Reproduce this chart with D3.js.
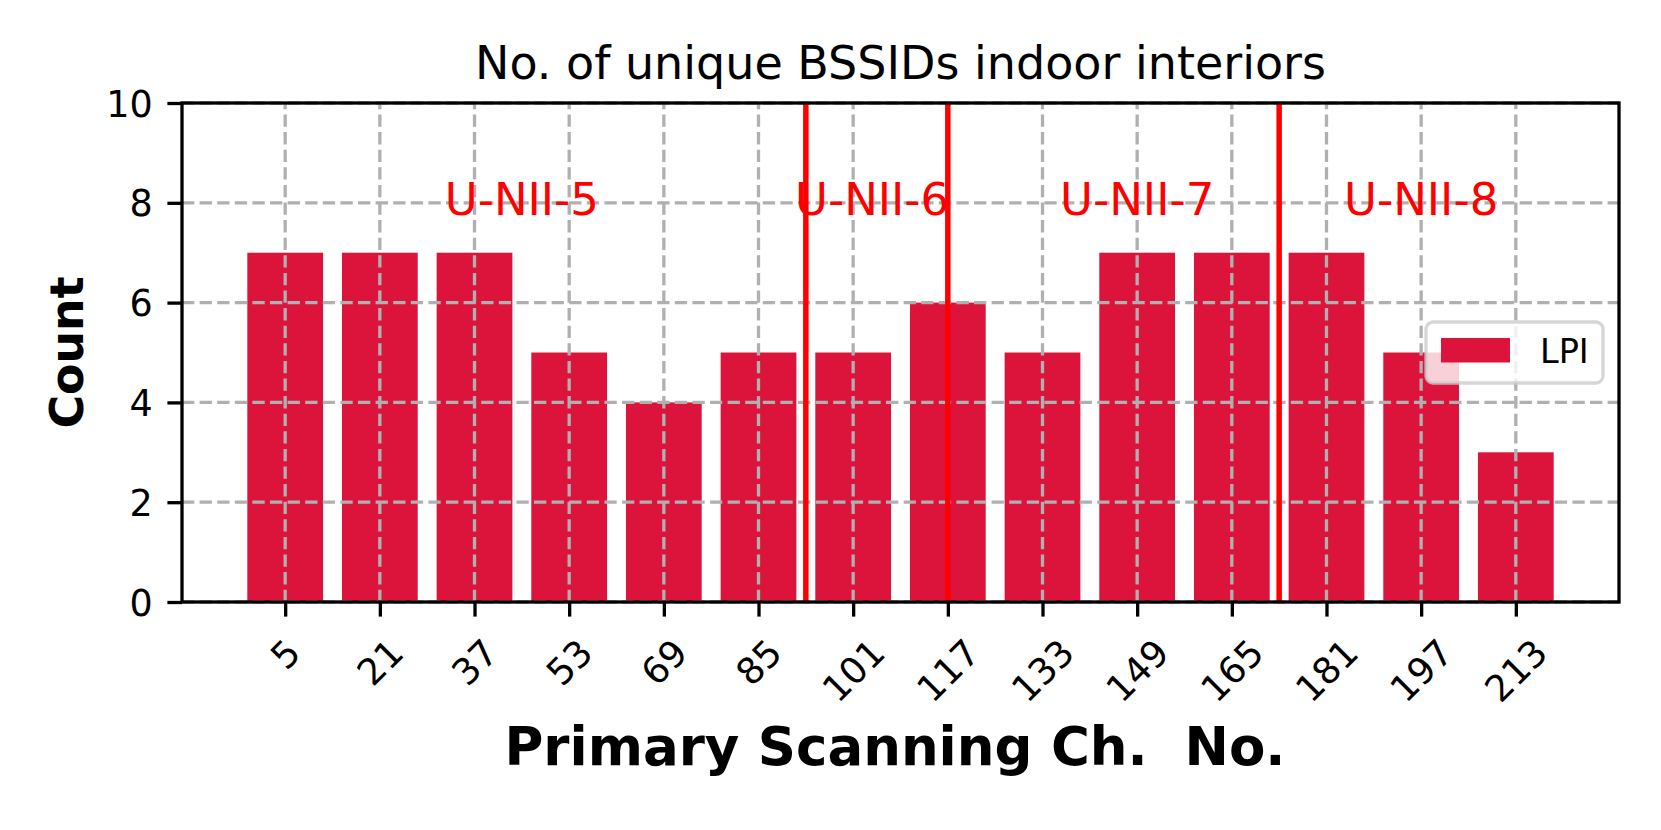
<!DOCTYPE html>
<html>
<head>
<meta charset="utf-8">
<script src="https://cdn.jsdelivr.net/npm/d3@7"></script>
<style>
  html, body { margin: 0; padding: 0; background: #fff; }
  svg { display: block; font-family: "DejaVu Sans", sans-serif; }
</style>
</head>
<body>
<svg id="chart" width="1661" height="830"></svg>
<script>
// ---- data ----
const channels = [5, 21, 37, 53, 69, 85, 101, 117, 133, 149, 165, 181, 197, 213];
const counts   = [7, 7, 7, 5, 4, 5, 5, 6, 5, 7, 7, 7, 5, 3];
const yTicks = [0, 2, 4, 6, 8, 10];
const bandLines = [5.5, 7, 10.5];              // category-index positions of band boundaries
const bandLabels = ["U-NII-5", "U-NII-6", "U-NII-7", "U-NII-8"];
const bandLabelX = [2.5, 6.2, 9.0, 12.0];      // category-index positions of band labels
const bandLabelY = 7.76;
const seriesName = "LPI";
const titleText = "No. of unique BSSIDs indoor interiors";
const xLabelText = "Primary Scanning Ch.  No.";
const yLabelText = "Count";

// ---- layout ----
const L = 182, R = 1619, T = 103, B = 602;
const barColor = "#DC143C";
const tickFont = 36.5;
const svg = d3.select("#chart");

const n = channels.length;
const barW = 0.8;
const lo = -barW / 2, hi = (n - 1) + barW / 2;
const pad = (hi - lo) * 0.05;
const x = d3.scaleLinear().domain([lo - pad, hi + pad]).range([L, R]);
const y = d3.scaleLinear().domain([0, 10]).range([B, T]);

// bars
svg.append("g").selectAll("rect").data(counts).join("rect")
  .attr("x", (d, i) => x(i - barW / 2))
  .attr("width", (d, i) => x(i + barW / 2) - x(i - barW / 2))
  .attr("y", d => y(d))
  .attr("height", d => y(0) - y(d))
  .attr("fill", barColor);

// grid (above bars, like matplotlib default)
const grid = svg.append("g").attr("stroke", "#b0b0b0").attr("stroke-width", 3.3)
  .attr("stroke-dasharray", "12.3,5.3").attr("fill", "none");
grid.selectAll("line.gx").data(channels.map((c, i) => i)).join("line").attr("class", "gx")
  .attr("x1", d => x(d)).attr("x2", d => x(d)).attr("y1", B).attr("y2", T);
grid.selectAll("line.gy").data(yTicks).join("line").attr("class", "gy")
  .attr("x1", L).attr("x2", R).attr("y1", d => y(d)).attr("y2", d => y(d));

// band boundary lines
svg.append("g").selectAll("line").data(bandLines).join("line")
  .attr("x1", d => x(d)).attr("x2", d => x(d)).attr("y1", B).attr("y2", T)
  .attr("stroke", "#ff0000").attr("stroke-width", 5.5);

// band labels
svg.append("g").selectAll("text").data(bandLabels).join("text")
  .attr("x", (d, i) => x(bandLabelX[i])).attr("y", y(bandLabelY))
  .attr("text-anchor", "middle").attr("fill", "#ff0000")
  .style("font-size", "45px").text(d => d);

// axes
const tickLen = 14.6, tickPad = 14.6;
const xAxis = d3.axisBottom(x).tickValues(channels.map((c, i) => i))
  .tickFormat(i => channels[i]).tickSize(tickLen).tickPadding(tickPad);
const gx = svg.append("g").attr("transform", `translate(0,${B})`).call(xAxis);
const yAxis = d3.axisLeft(y).tickValues(yTicks).tickSize(tickLen).tickPadding(tickPad);
const gy = svg.append("g").attr("transform", `translate(${L},0)`).call(yAxis);

[gx, gy].forEach(g => {
  g.select(".domain").remove();
  g.selectAll(".tick line").attr("stroke", "#000").attr("stroke-width", 3.3);
  g.selectAll(".tick text").attr("fill", "#000").style("font-size", tickFont + "px")
    .style("font-family", "DejaVu Sans");
});
gy.selectAll(".tick text").attr("dy", "0.36em");

// rotate x tick labels 45deg, centered under tick, bbox top at tick end + pad
const y0 = B + tickLen + tickPad;
gx.selectAll(".tick text").each(function () {
  const t = d3.select(this);
  const w = this.getComputedTextLength();
  const h = tickFont * 1.16;
  const cy = (w + h) / (2 * Math.SQRT2);
  t.attr("y", null).attr("dy", null)
    .attr("text-anchor", "middle").attr("dominant-baseline", "central")
    .attr("transform", `translate(0,${y0 - B + cy}) rotate(-45)`);
});

// spines
svg.append("rect").attr("x", L).attr("y", T).attr("width", R - L).attr("height", B - T)
  .attr("fill", "none").attr("stroke", "#000").attr("stroke-width", 3.3);

// title & labels
svg.append("text").attr("x", (L + R) / 2).attr("y", 79).attr("text-anchor", "middle")
  .style("font-size", "46px").text(titleText);
svg.append("text").attr("x", 895).attr("y", 765).attr("text-anchor", "middle")
  .style("font-size", "53px").style("font-weight", "bold")
  .style("white-space", "pre").attr("xml:space", "preserve").text(xLabelText);
svg.append("text").attr("transform", `translate(83,${(T + B) / 2}) rotate(-90)`)
  .attr("text-anchor", "middle").style("font-size", "45.8px").style("font-weight", "bold")
  .text(yLabelText);

// legend
const lg = svg.append("g");
lg.append("rect").attr("x", 1426).attr("y", 322).attr("width", 177).attr("height", 61)
  .attr("rx", 7).attr("fill", "#fff").attr("fill-opacity", 0.8)
  .attr("stroke", "#cccccc").attr("stroke-opacity", 0.8).attr("stroke-width", 3.3);
lg.append("rect").attr("x", 1441).attr("y", 338).attr("width", 69).attr("height", 24.5)
  .attr("fill", barColor);
lg.append("text").attr("x", 1540).attr("y", 362.5).style("font-size", "33.5px").text(seriesName);
</script>
</body>
</html>
